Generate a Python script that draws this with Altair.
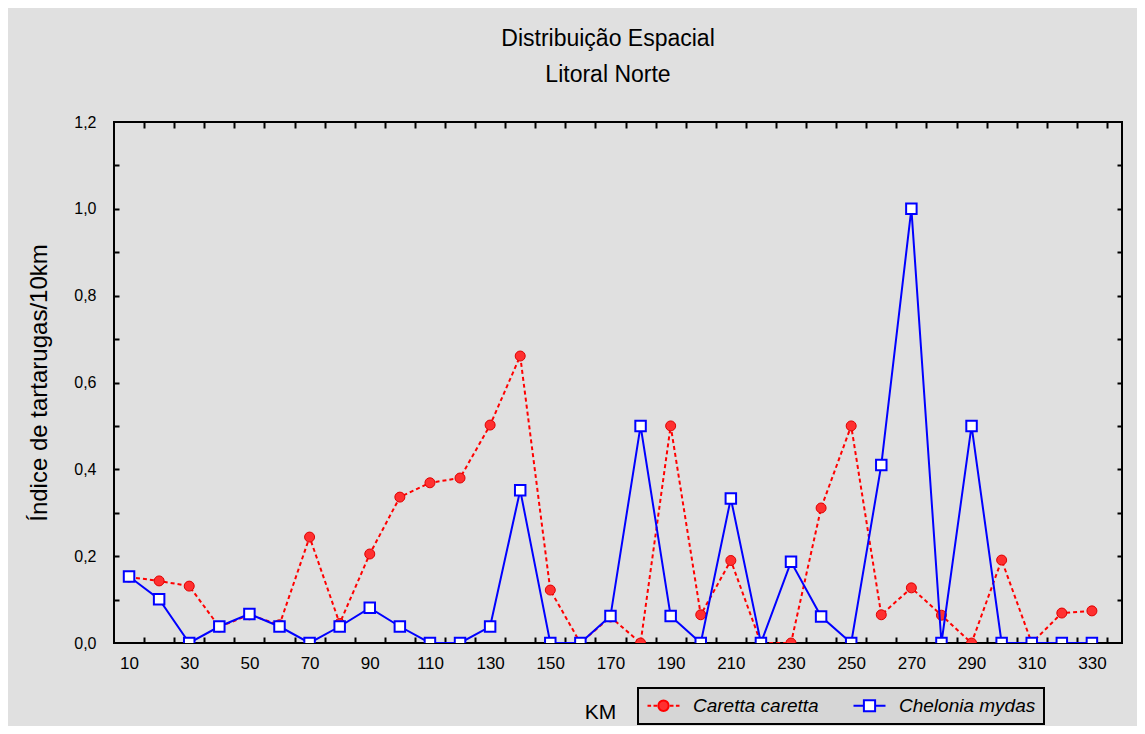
import altair as alt
import pandas as pd

# ---------------- data ----------------
km = list(range(10, 331, 10))
caretta = [0.152, 0.143, 0.131, 0.037, 0.065, 0.042, 0.244, 0.045, 0.205, 0.336,
           0.369, 0.380, 0.502, 0.661, 0.122, 0.000, 0.060, 0.000, 0.500, 0.065,
           0.190, 0.000, 0.000, 0.311, 0.500, 0.065, 0.127, 0.064, 0.000, 0.191,
           0.000, 0.069, 0.074]
chelonia = [0.153, 0.101, 0.000, 0.038, 0.067, 0.038, 0.000, 0.038, 0.081, 0.038,
            0.000, 0.000, 0.038, 0.352, 0.000, 0.000, 0.062, 0.500, 0.062, 0.000,
            0.333, 0.000, 0.187, 0.061, 0.000, 0.410, 1.000, 0.000, 0.500, 0.000,
            0.000, 0.000, 0.000]
species = ["Caretta caretta", "Chelonia mydas"]
x_label_values = list(range(10, 331, 20))
x_tick_values = list(range(15, 336, 10))
y_label_values = [0.0, 0.2, 0.4, 0.6, 0.8, 1.0, 1.2]
y_tick_values = [0.1, 0.2, 0.3, 0.4, 0.5, 0.6, 0.7, 0.8, 0.9, 1.0, 1.1]

df = pd.DataFrame({
    "km": km + km,
    "valor": caretta + chelonia,
    "especie": [species[0]] * len(km) + [species[1]] * len(km),
})

# ---------------- style ----------------
W, H = 1008, 521
FONT = "Liberation Sans"
RED = "#ff0000"
BLUE = "#0000ff"

xscale = alt.Scale(domain=[5, 340], nice=False, zero=False)
yscale = alt.Scale(domain=[0, 1.2], nice=False, zero=False)
comma = "replace(format(datum.value, '.1f'), '.', ',')"

x_main = alt.Axis(orient="bottom", values=x_label_values, ticks=False, domain=False,
                  grid=False, labelFont=FONT, labelFontSize=17, labelColor="black",
                  labelPadding=12, labelFlush=False, labelOverlap=False,
                  title="KM", titleFont=FONT, titleFontSize=21, titleFontWeight="normal",
                  titleColor="black", titleX=486, titleY=75, titleAlign="center",
                  titleBaseline="alphabetic")
y_main = alt.Axis(orient="left", values=y_label_values, ticks=False, domain=False,
                  grid=False, labelExpr=comma, labelFont=FONT, labelFontSize=16,
                  labelColor="black", labelPadding=18, labelBaseline="middle",
                  labelFlush=False, labelOverlap=False,
                  title="Índice de tartarugas/10km", titleFont=FONT, titleFontSize=24,
                  titleFontWeight="normal", titleColor="black", titleX=-68, titleY=H / 2,
                  titleAngle=270, titleAlign="center", titleBaseline="alphabetic")

def tick_axis(orient, offset, values, size):
    return alt.Axis(orient=orient, offset=offset, values=values, labels=False,
                    domain=False, grid=False, ticks=True, tickSize=size, tickWidth=2,
                    tickColor="black", title=None)

x_tick_bottom = tick_axis("top", -H, x_tick_values, 6)
x_tick_top = tick_axis("bottom", -H, x_tick_values, 6)
y_tick_left = tick_axis("right", -W, y_tick_values, 5)
y_tick_right = tick_axis("left", -W, y_tick_values, 5)

base = alt.Chart(df)
red = base.transform_filter(alt.datum.especie == species[0])
blue = base.transform_filter(alt.datum.especie == species[1])

red_line = red.mark_line(color=RED, strokeWidth=2, strokeDash=[4, 3], clip=True).encode(
    x=alt.X("km:Q", scale=xscale, axis=x_main),
    y=alt.Y("valor:Q", scale=yscale, axis=y_main),
)
red_pts = red.mark_point(shape="circle", filled=True, fill="#ff3030", stroke="#e00000",
                         strokeWidth=1, size=100, opacity=1, clip=True).encode(
    x=alt.X("km:Q", scale=xscale, axis=x_tick_bottom),
    y=alt.Y("valor:Q", scale=yscale, axis=y_tick_left),
)
blue_line = blue.mark_line(color=BLUE, strokeWidth=2, clip=True).encode(
    x=alt.X("km:Q", scale=xscale, axis=x_tick_top),
    y=alt.Y("valor:Q", scale=yscale, axis=y_tick_right),
)
blue_pts = blue.mark_point(shape="square", filled=True, fill="white", stroke=BLUE,
                           strokeWidth=2, size=110, opacity=1, clip=True).encode(
    x=alt.X("km:Q", scale=xscale, axis=None),
    y=alt.Y("valor:Q", scale=yscale, axis=None),
)

# legend symbols: line + marker (unit box; 1 unit = 8px)
path_red = ("M-1,0H-0.55M-0.25,0H0.2M1.8,0H2.25M2.55,0H3"
            "M1.65,0A0.65,0.65,0,1,1,0.35,0A0.65,0.65,0,1,1,1.65,0Z")
path_blue = "M-1,0H0.3M1.7,0H3M0.3,-0.7H1.7V0.7H0.3Z"

leg = alt.Legend(orient="none", legendX=524, legendY=566, direction="horizontal",
                 title=None, fillColor="#d6d6d6", strokeColor="black", padding=8,
                 symbolSize=256, symbolStrokeWidth=2, labelFont=FONT, labelFontSize=19,
                 labelFontStyle="italic", labelColor="black", labelOffset=28,
                 columnPadding=30, labelLimit=300)

legend_layer = base.transform_filter("datum.km < 0").mark_point(
    opacity=1, strokeWidth=2, size=256).encode(
    shape=alt.Shape("especie:N", scale=alt.Scale(domain=species, range=[path_red, path_blue]), legend=leg),
    fill=alt.Fill("especie:N", scale=alt.Scale(domain=species, range=["#ff3030", "#ffffff"]), legend=leg),
    stroke=alt.Stroke("especie:N", scale=alt.Scale(domain=species, range=[RED, BLUE]), legend=leg),
)

chart = alt.layer(red_line, red_pts, blue_line, blue_pts, legend_layer).resolve_axis(
    x="independent", y="independent"
).properties(
    width=W, height=H,
    title=alt.TitleParams(text="Distribuição Espacial", subtitle="Litoral Norte",
                          font=FONT, subtitleFont=FONT, fontSize=23, subtitleFontSize=23,
                          fontWeight="normal", color="black", subtitleColor="black",
                          anchor="middle", frame="group", offset=27, subtitlePadding=13,
                          dx=-10),
    background="#e0e0e0",
    autosize=alt.AutoSizeParams(type="none"),
    padding={"left": 106, "top": 114, "right": 15, "bottom": 83},
).configure_view(stroke="black", strokeWidth=2, fill="white").configure_legend(strokeWidth=2)

chart.save("out.html", embed_options={"renderer": "svg", "actions": False})
